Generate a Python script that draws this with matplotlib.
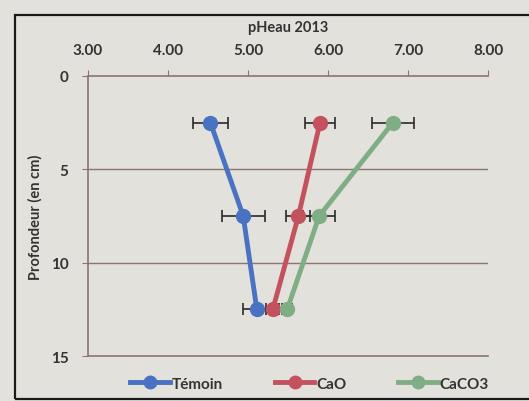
import matplotlib.pyplot as plt
from matplotlib.patches import Rectangle

# profondeur (cm) et pH eau 2013 par traitement
profondeur = [2.5, 7.5, 12.5]
ph_temoin = [4.53, 4.94, 5.11]
err_temoin = [0.22, 0.27, 0.17]
ph_cao = [5.90, 5.63, 5.31]
err_cao = [0.19, 0.15, 0.08]
ph_caco3 = [6.81, 5.89, 5.49]
err_caco3 = [0.26, 0.20, 0.06]

noms = ['Témoin', 'CaO', 'CaCO3']
couleurs = ['#4a72c2', '#c4525e', '#7fae84']
x_ticks = [3, 4, 5, 6, 7, 8]
y_ticks = [0, 5, 10, 15]

papier = '#e3e1db'
grille = '#8c7472'

plt.rcParams['font.family'] = ['Lato', 'DejaVu Sans']
plt.rcParams['font.weight'] = 'bold'

fig = plt.figure(figsize=(5.29, 4.02), dpi=100, facecolor=papier)
ax = fig.add_axes([0.1664, 0.1119, 0.7561, 0.6966])
ax.set_facecolor(papier)

series = [(ph_temoin, err_temoin), (ph_cao, err_cao), (ph_caco3, err_caco3)]
for (vals, errs), nom, c in zip(series, noms, couleurs):
    ax.errorbar(vals, profondeur, xerr=errs, fmt='none', ecolor='#2a2a2a',
                elinewidth=1.2, capsize=4, capthick=1.2, zorder=3)
    ax.plot(vals, profondeur, color=c, lw=3.5, marker='o', markersize=10,
            label=nom, zorder=4)

ax.set_xlim(3, 8)
ax.set_ylim(15, 0)
ax.set_xticks(x_ticks)
ax.set_xticklabels(['%.2f' % v for v in x_ticks])
ax.set_yticks(y_ticks)
ax.xaxis.tick_top()
ax.xaxis.set_label_position('top')
ax.set_xlabel('pHeau 2013', fontsize=10.5, fontweight='bold', color='#333333', labelpad=8)
ax.set_ylabel('Profondeur (en cm)', fontsize=10.5, fontweight='bold', color='#333333', labelpad=6)

ax.tick_params(axis='x', direction='out', length=4, color=grille, pad=10,
               labelsize=11, labelcolor='#333333')
ax.tick_params(axis='y', direction='out', length=4, color=grille, pad=10,
               labelsize=11, labelcolor='#333333')

for y in [5, 10]:
    ax.axhline(y, color=grille, lw=1, zorder=1)
for s in ['top', 'left', 'bottom']:
    ax.spines[s].set_color(grille)
    ax.spines[s].set_linewidth(1.2)
ax.spines['right'].set_visible(False)

leg = fig.legend(loc='center', bbox_to_anchor=(0.585, 0.043), ncol=3, frameon=False,
                 fontsize=11, columnspacing=3.4, handlelength=2.6, handletextpad=0.1,
                 markerscale=0.9)
for t in leg.get_texts():
    t.set_color('#333333')

# cadre du graphique
fig.patches.append(Rectangle((0.028, 0.006), 1.1, 0.953, transform=fig.transFigure,
                             fill=False, edgecolor='#1a1a1a', lw=1.6))

fig.savefig('out.png', dpi=100, facecolor=papier)
